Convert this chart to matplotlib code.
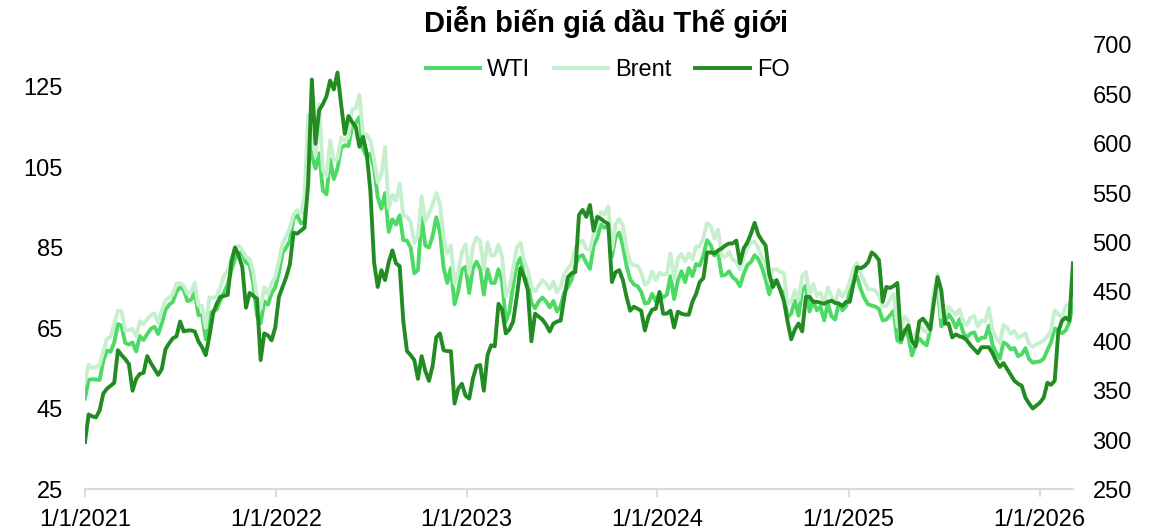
import pandas as pd
import matplotlib
matplotlib.use("Agg")
import matplotlib.pyplot as plt
import matplotlib.dates as mdates
from matplotlib.ticker import FuncFormatter, MultipleLocator

plt.rcParams["font.family"] = ["Liberation Sans", "DejaVu Sans"]

dates = pd.date_range("2021-01-01", periods=271, freq="7D")

wti = [
    # 2021
    47.6, 52.2, 52.4, 52.3, 52.2, 56.9, 59.5, 59.2, 61.5, 66.1,
    65.6, 61.4, 61.0, 61.5, 59.3, 63.1, 62.1, 63.6, 64.9, 65.4,
    63.6, 66.3, 69.6, 70.9, 71.6, 74.1, 75.2, 74.6, 71.8, 72.1,
    74.0, 68.3, 68.4, 62.3, 68.7, 69.3, 69.7, 72.0, 74.0, 75.9,
    79.4, 82.3, 83.8, 83.6, 81.3, 80.8, 76.1, 68.2, 66.3, 71.7,
    70.9, 73.8, 75.2,
    # 2022
    78.9, 83.8, 85.1, 86.8, 92.3, 93.1, 91.1, 91.6, 112.0, 108.0,
    104.7, 108.5, 99.3, 98.3, 107.0, 102.1, 104.7, 109.8, 110.5, 110.3,
    115.1, 116.0, 117.5, 109.6, 107.6, 108.4, 104.8, 97.6, 94.7, 98.6,
    89.0, 92.1, 90.8, 93.1, 86.9, 86.8, 85.1, 78.7, 79.5, 92.6,
    85.6, 85.1, 87.9, 92.6, 89.0, 80.1, 76.3, 80.0, 71.0, 74.3,
    79.6, 80.3,
    # 2023
    73.8, 79.9, 81.6, 79.7, 73.4, 79.7, 76.3, 76.3, 79.7, 76.7,
    66.7, 69.3, 75.7, 80.7, 82.5, 77.9, 76.8, 71.3, 70.0, 71.7,
    72.7, 71.7, 70.2, 71.8, 69.2, 70.6, 73.9, 75.4, 77.1, 80.6,
    82.8, 83.2, 81.3, 79.8, 85.6, 87.5, 90.8, 90.0, 90.8, 82.8,
    87.7, 88.8, 85.5, 80.5, 77.2, 75.9, 75.5, 74.1, 71.2, 71.4,
    73.6, 71.7,
    # 2024
    73.8, 72.7, 73.4, 78.0, 72.3, 76.8, 79.2, 76.5, 80.0, 78.0,
    81.0, 80.6, 83.2, 86.9, 85.7, 83.1, 83.9, 78.1, 78.3, 79.2,
    77.7, 77.0, 75.5, 78.5, 80.7, 81.5, 83.2, 82.2, 80.1, 77.2,
    73.5, 76.8, 76.7, 74.8, 73.6, 67.7, 68.7, 71.9, 68.2, 74.4,
    75.6, 69.2, 71.8, 69.5, 70.4, 67.0, 71.2, 68.0, 67.2, 71.3,
    69.5, 70.6,
    # 2025
    74.0, 76.6, 77.9, 74.7, 72.5, 71.0, 70.7, 70.4, 69.8, 67.0,
    67.2, 68.3, 69.4, 62.0, 61.5, 64.7, 63.0, 58.3, 61.0, 62.5,
    61.5, 60.8, 64.6, 73.0, 75.5, 65.5, 66.5, 68.5, 67.3, 65.2,
    67.3, 63.9, 62.8, 63.7, 64.0, 61.9, 62.7, 62.7, 65.7, 60.9,
    58.9, 57.5, 61.5, 61.0, 59.8, 60.1, 58.1, 58.6, 60.1, 57.4,
    56.5, 56.7,
    # 2026
    56.8, 57.5, 59.6, 61.5, 65.0, 64.5, 63.8, 64.5, 66.5, 71.5,
]

brent = [
    # 2021
    51.8, 56.0, 55.1, 55.4, 55.9, 59.3, 62.4, 62.9, 66.1, 69.4,
    69.2, 64.5, 64.6, 64.9, 63.0, 66.8, 66.1, 67.3, 68.3, 68.7,
    66.4, 69.6, 71.9, 72.7, 73.5, 76.2, 76.2, 75.6, 73.6, 74.1,
    76.3, 70.7, 70.6, 65.2, 72.7, 72.6, 72.9, 75.3, 78.1, 79.3,
    82.4, 84.9, 85.5, 84.4, 82.7, 82.2, 78.9, 72.7, 69.9, 75.2,
    73.5, 76.1, 77.8,
    # 2022
    81.8, 86.1, 87.9, 90.0, 93.3, 94.4, 93.5, 97.9, 118.1, 112.7,
    107.9, 120.7, 104.4, 102.8, 111.7, 106.7, 107.1, 112.4, 111.6, 112.6,
    119.4, 119.7, 123.0, 113.1, 113.1, 111.6, 107.0, 101.2, 103.2, 110.0,
    94.9, 98.2, 96.7, 101.0, 93.0, 92.8, 91.4, 86.2, 88.0, 97.9,
    91.6, 93.5, 95.8, 98.6, 96.0, 87.6, 83.6, 85.6, 76.1, 79.0,
    83.9, 85.9,
    # 2023
    78.6, 85.3, 87.6, 86.7, 79.9, 86.4, 83.0, 83.2, 85.8, 82.8,
    73.0, 75.0, 79.8, 85.1, 86.3, 81.7, 79.5, 75.3, 74.2, 75.6,
    77.0, 76.1, 74.8, 76.6, 73.9, 75.4, 78.5, 79.9, 81.1, 85.0,
    86.2, 86.8, 84.8, 84.5, 88.6, 90.7, 93.9, 93.3, 95.3, 84.6,
    90.9, 92.2, 90.5, 84.9, 81.4, 80.6, 80.6, 78.9, 75.8, 76.6,
    79.1, 77.0,
    # 2024
    78.8, 78.3, 78.6, 83.6, 77.3, 82.2, 83.5, 81.6, 83.6, 82.1,
    85.3, 85.4, 87.5, 91.2, 90.5, 87.3, 89.5, 83.0, 82.8, 84.0,
    82.1, 81.6, 79.6, 82.6, 85.2, 86.4, 86.5, 85.0, 82.6, 81.1,
    76.8, 79.7, 79.7, 79.0, 78.8, 71.1, 71.6, 74.5, 72.0, 78.1,
    79.0, 73.1, 76.1, 73.1, 73.9, 71.0, 75.2, 72.9, 71.1, 74.5,
    72.9, 74.2,
    # 2025
    76.5, 79.8, 81.3, 78.5, 76.8, 74.7, 74.7, 74.4, 73.2, 70.4,
    70.6, 72.2, 73.6, 65.6, 64.8, 68.0, 66.9, 61.3, 63.9, 65.4,
    64.8, 63.9, 66.5, 74.2, 78.5, 67.8, 68.3, 70.4, 69.3, 68.4,
    69.7, 66.6, 65.9, 67.7, 68.1, 65.5, 67.0, 66.7, 70.1, 64.5,
    62.7, 61.3, 65.9, 65.1, 63.6, 64.4, 62.6, 63.2, 63.8, 61.1,
    60.5, 61.0,
    # 2026
    61.5, 62.0, 63.0, 64.5, 69.5, 68.5, 67.8, 70.5, 71.0, 73.0,
]

fo = [
    # 2021
    298, 326, 324, 323, 330, 347, 352, 355, 358, 391,
    386, 382, 377, 350, 362, 367, 368, 385, 378, 372,
    366, 372, 392, 398, 403, 405, 420, 410, 411, 411,
    410, 400, 394, 386, 405, 428, 438, 445, 446, 447,
    480, 495, 487, 475, 434, 449, 446, 443, 381, 408,
    406, 401, 414,
    # 2022
    445, 455, 465, 478, 510, 509, 512, 515, 560, 665,
    600, 634, 640, 648, 664, 655, 672, 640, 610, 628,
    622, 617, 597, 607, 590, 552, 480, 455, 472, 462,
    480, 492, 479, 476, 420, 390, 386, 381, 362, 385,
    370, 360, 375, 404, 408, 391, 390, 390, 337, 352,
    357, 345,
    # 2023
    342, 362, 375, 376, 350, 386, 396, 395, 438, 432,
    408, 412, 420, 445, 474, 465, 452, 400, 428, 425,
    422, 417, 410, 418, 420, 421, 445, 465, 469, 470,
    528, 533, 526, 538, 512, 526, 524, 521, 519, 460,
    470, 472, 462, 445, 431, 435, 433, 431, 411, 425,
    432, 433,
    # 2024
    450, 428, 428, 431, 414, 430, 428, 427, 427, 440,
    448, 460, 464, 490, 490, 489, 492, 494, 497, 499,
    499, 502, 479, 494, 500, 509, 520, 508, 502, 497,
    468, 455, 462, 452, 441, 420, 402, 412, 418, 410,
    445, 445, 440, 440, 439, 438, 440, 441, 439, 438,
    436, 440,
    # 2025
    440, 458, 475, 474, 476, 480, 490, 487, 482, 440,
    455, 454, 456, 459, 402, 410, 416, 400, 395, 420,
    423, 418, 412, 440, 465, 452, 418, 418, 404, 407,
    405, 404, 401, 396, 392, 388, 394, 394, 394, 388,
    380, 374, 378, 372, 366, 360, 357, 355, 343, 337,
    332, 335,
    # 2026
    338, 343, 358, 356, 360, 410, 421, 424, 421, 479,
]

year_ticks = pd.to_datetime(["2021-01-01", "2022-01-01", "2023-01-01",
                             "2024-01-01", "2025-01-01", "2026-01-01"])

fig = plt.figure(figsize=(11.53, 5.29), dpi=100)
ax = fig.add_axes([0.0737, 0.0747, 0.8569, 0.8403])
ax2 = ax.twinx()

l1, = ax.plot(dates, wti, color="#4cd964", lw=2.8, label="WTI", solid_joinstyle="round")
l2, = ax.plot(dates, brent, color="#c6efce", lw=2.8, label="Brent", solid_joinstyle="round")
l3, = ax2.plot(dates, fo, color="#228b22", lw=2.8, label="FO", solid_joinstyle="round")

ax.set_xlim(dates[0], dates[-1])
ax.set_ylim(25, 135.4)
ax.set_yticks([25, 45, 65, 85, 105, 125])
ax2.set_ylim(250, 700)
ax2.yaxis.set_major_locator(MultipleLocator(50))

ax.set_xticks(year_ticks)
ax.xaxis.set_major_formatter(FuncFormatter(
    lambda v, p: "{0.month}/{0.day}/{0.year}".format(mdates.num2date(v))))

for a in (ax, ax2):
    for s in ("left", "right", "top"):
        a.spines[s].set_visible(False)
ax2.spines["bottom"].set_visible(False)
ax.spines["bottom"].set_color("#d9d9d9")
ax.spines["bottom"].set_linewidth(1.5)

ax.tick_params(axis="x", length=6, width=1.3, color="#d9d9d9", labelsize=17, pad=8)
ax.tick_params(axis="y", length=0, labelsize=17, pad=16)
ax2.tick_params(axis="y", length=0, labelsize=17, pad=14)

fig.text(0.526, 0.958, "Diễn biến giá dầu Thế giới", ha="center", va="center",
         fontsize=21, fontweight="bold")
fig.legend(handles=[l1, l2, l3], loc="center", bbox_to_anchor=(0.527, 0.868),
           ncol=3, frameon=False, fontsize=17, handlelength=2.3,
           handletextpad=0.3, columnspacing=1.0)

fig.savefig("out.png", dpi=100)
